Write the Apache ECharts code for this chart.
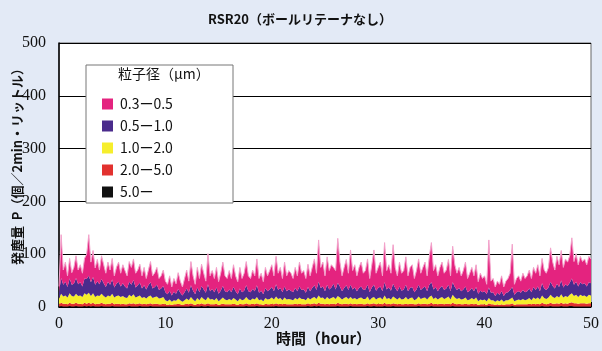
<!DOCTYPE html>
<html><head><meta charset="utf-8">
<script src="https://cdn.jsdelivr.net/npm/echarts@6/dist/echarts.min.js"></script>
<style>html,body{margin:0;padding:0;background:#e3eaf6;}#c{width:602px;height:351px;}</style>
</head><body><div id="c"></div>
<script>
// sampling step of the time axis (hours)
const stepHours = 0.2;
const seriesNames = ['0.3ー0.5', '0.5ー1.0', '1.0ー2.0', '2.0ー5.0', '5.0ー'];
const xTicks = [0, 10, 20, 30, 40, 50];
const yTicks = [0, 100, 200, 300, 400, 500];

// 5.0- (black)
const s50 = [
1,2,1,1,1,2,1,1,2,1, 1,1,2,1,2,1,2,1,1,1, 2,1,1,1,1,2,1,1,1,1, 1,1,1,2,1,1,1,1,2,1,
1,1,1,2,1,1,1,1,1,1, 1,1,1,1,1,1,1,1,1,1, 1,1,2,1,1,1,1,2,1,1, 2,1,1,1,1,1,1,1,1,1,
1,1,1,1,1,1,1,1,2,1, 1,1,1,2,1,1,1,1,1,1, 1,1,2,1,1,1,1,1,1,1, 1,1,1,1,1,1,1,2,1,1,
2,1,2,1,1,1,1,1,1,1, 1,2,1,1,1,1,1,2,1,1, 1,1,1,1,1,2,1,1,2,1, 1,1,1,2,1,1,1,2,1,1,
1,1,1,1,1,1,1,1,1,2, 1,1,1,1,1,2,1,1,1,1, 1,1,1,1,1,2,1,1,1,1, 1,1,1,1,1,1,1,1,1,1,
1,1,2,1,1,1,1,1,1,1, 1,1,1,2,1,1,1,1,1,1, 1,1,1,1,1,1,1,2,1,1, 1,2,1,1,1,1,2,1,1,1,
2,2,1,1,1,1,1,1,1,1, 1
];
// 2.0-5.0 (red)
const s20 = [
4,6,5,5,4,6,5,5,6,5, 5,4,6,5,6,5,6,4,5,5, 6,5,4,5,5,6,4,5,5,4, 5,4,4,5,5,6,4,5,5,4,
5,4,5,5,4,5,5,4,4,5, 4,3,4,3,4,4,5,4,3,4, 5,4,5,4,3,5,4,5,4,4, 5,4,4,4,5,3,4,5,4,4,
4,4,5,4,3,5,4,4,5,4, 4,5,4,5,4,4,3,5,4,4, 5,4,5,4,5,4,5,4,4,4, 4,5,4,5,4,4,4,5,4,5,
5,4,6,5,5,4,5,4,5,5, 4,6,5,4,5,5,4,5,4,5, 4,5,5,4,4,5,4,5,5,4, 5,5,4,6,4,5,4,5,5,4,
5,4,4,5,4,5,5,4,4,5, 4,5,5,4,5,6,4,5,4,5, 5,4,5,5,4,6,5,4,5,4, 4,5,4,4,5,4,5,3,4,4,
4,3,5,4,4,3,4,3,4,3, 4,4,4,5,3,4,4,4,4,4, 4,5,4,5,4,5,4,6,5,4, 5,6,5,5,6,5,6,5,6,5,
6,7,6,6,5,6,6,6,5,6, 6
];
// 1.0-2.0 (yellow)
const s10 = [
11,17,14,16,13,18,15,14,17,15, 16,14,18,17,19,15,18,14,16,15, 17,15,13,16,14,17,13,15,16,14, 15,13,12,16,14,17,13,14,15,12,
13,11,14,15,12,13,14,11,12,13, 8,7,9,6,8,7,10,8,6,8, 10,8,12,9,7,11,8,12,10,8, 12,9,10,8,11,7,9,12,9,8,
10,8,11,9,7,10,8,9,12,9, 8,10,9,12,8,9,7,11,9,10, 12,9,13,10,11,8,12,9,10,9, 8,11,9,12,10,10,8,11,9,11,
12,10,14,11,12,9,13,10,11,13, 10,13,12,9,11,13,10,12,10,11, 9,11,12,10,10,13,8,11,12,9, 11,12,9,14,10,11,9,13,11,9,
12,9,10,13,9,11,12,8,10,13, 10,11,12,9,13,14,10,12,9,11, 13,10,11,14,9,15,12,10,11,9, 10,12,8,9,11,9,12,7,9,8,
9,7,10,8,8,6,8,7,9,6, 8,8,10,11,7,8,9,8,10,8, 9,11,8,12,10,12,9,14,11,10, 12,15,13,11,14,12,16,12,14,13,
15,17,14,16,13,16,14,15,13,16, 15
];
// 0.5-1.0 (purple)
const s05 = [
12,30,22,26,20,28,21,24,30,22, 25,20,28,30,32,26,31,23,27,22, 28,24,20,26,22,27,19,23,26,20, 24,21,18,25,22,27,19,21,24,18,
22,17,21,25,18,19,22,16,18,21, 15,13,17,12,16,13,18,14,12,15, 19,14,22,17,13,20,15,21,18,14, 24,16,19,15,20,14,17,22,16,15,
18,15,21,16,13,19,15,17,22,16, 15,18,16,22,14,17,13,19,16,18, 20,16,23,17,19,15,21,16,18,17, 15,19,16,21,17,18,14,20,16,19,
22,17,26,19,21,16,23,18,20,25, 18,25,21,16,19,22,17,23,18,20, 16,19,21,17,18,22,15,20,23,17, 19,21,16,25,18,20,17,24,19,16,
21,17,18,23,16,19,20,15,18,22, 17,19,21,16,23,25,18,20,16,19, 21,17,18,22,16,24,20,17,19,16, 18,21,15,17,19,16,20,14,17,15,
16,13,20,14,15,11,14,12,16,11, 14,15,17,20,12,15,16,14,17,15, 16,18,15,20,17,21,16,23,18,17, 19,25,21,18,23,20,26,19,22,21,
23,28,21,25,20,24,22,23,20,24, 23
];
// 0.3-0.5 (pink)
const s03 = [
11,82,28,37,21,38,23,31,42,27, 33,25,38,47,78,38,50,32,41,27, 44,35,26,37,28,40,22,31,37,25, 35,30,24,38,33,40,27,29,35,24,
34,21,29,39,24,27,33,22,24,30, 21,19,28,16,25,19,31,22,16,26, 35,22,45,28,19,38,26,41,31,22, 58,29,35,26,38,23,33,45,29,26,
36,26,42,29,24,40,26,33,45,29, 26,36,29,50,27,33,24,39,29,36, 42,29,53,32,39,26,46,29,36,33, 26,39,29,46,32,36,27,43,29,39,
50,32,79,39,46,29,53,36,43,31, 36,84,46,29,39,49,32,66,36,43, 29,39,46,32,36,49,26,43,66,33, 39,46,29,75,36,43,33,74,39,29,
46,33,36,53,29,39,42,26,36,49, 32,39,46,29,53,75,36,42,29,39, 45,32,35,48,29,68,42,32,39,29, 36,46,26,33,39,29,42,23,33,26,
29,19,90,22,26,17,22,20,29,17, 22,26,32,81,20,26,29,22,32,26, 29,35,26,37,32,41,29,47,35,32, 38,64,45,35,52,42,57,38,48,45,
51,77,44,53,41,49,43,46,41,49, 46
];

const n = Math.min(s50.length, s20.length, s10.length, s05.length, s03.length);
const hours = [];
for (let i = 0; i < n; i++) hours.push(+(i * stepHours).toFixed(1));
const tickEvery = Math.round(10 / stepHours);

const layers = [
  { name: seriesNames[4], data: s50, color: '#111111' },
  { name: seriesNames[3], data: s20, color: '#e2312f' },
  { name: seriesNames[2], data: s10, color: '#f6ee2c' },
  { name: seriesNames[1], data: s05, color: '#4a2b8c' },
  { name: seriesNames[0], data: s03, color: '#e4237f', line: '#f3a3cb' }
];

const chart = echarts.init(document.getElementById('c'), null, { renderer: 'canvas' });
const axisFont = { fontFamily: 'Liberation Serif', fontSize: 16, color: '#111' };
chart.setOption({
  backgroundColor: '#e3eaf6',
  animation: false,
  title: {
    text: 'RSR20（ボールリテーナなし）', left: 203, top: 8,
    textStyle: { fontFamily: 'Noto Sans CJK JP', fontSize: 13, fontWeight: 'bold', color: '#111' }
  },
  grid: { left: 59, right: 11, top: 43, bottom: 44, show: true, backgroundColor: '#ffffff', borderColor: '#666', borderWidth: 1 },
  legend: {
    orient: 'vertical', left: 97, top: 92, z: 120,
    data: seriesNames, icon: 'rect', itemWidth: 11, itemHeight: 11, itemGap: 8,
    textStyle: { fontFamily: 'Noto Sans CJK JP', fontSize: 14, color: '#111', padding: [0, 0, 0, 2] },
    selectedMode: false
  },
  graphic: [
    { type: 'rect', z: 100, shape: { x: 86, y: 65, width: 147, height: 138 }, style: { fill: '#fff', stroke: '#777', lineWidth: 1 } },
    { type: 'text', z: 110, left: 118, top: 67, style: { text: '粒子径（μm）', font: '14px "Noto Sans CJK JP"', fill: '#111' } },
    { type: 'text', z: 110, left: 11, top: 62, rotation: Math.PI / 2, style: { text: '発塵量  P（個／2min・リットル）', font: 'bold 13px "Noto Sans CJK JP"', fill: '#111' } },
    { type: 'text', z: 110, left: 276, top: 331, style: { text: '時間（hour）', font: 'bold 15px "Noto Sans CJK JP"', fill: '#111' } }
  ],
  xAxis: {
    type: 'category', data: hours, boundaryGap: false,
    axisLine: { lineStyle: { color: '#000', width: 1.5 } },
    axisTick: { show: true, inside: true, length: 5, interval: tickEvery - 1, lineStyle: { color: '#000' } },
    axisLabel: Object.assign({ margin: 9, interval: tickEvery - 1, showMaxLabel: true,
      formatter: (v) => (xTicks.indexOf(Number(v)) >= 0 ? String(Number(v)) : '') }, axisFont),
    splitLine: { show: false }
  },
  yAxis: {
    type: 'value', min: yTicks[0], max: yTicks[yTicks.length - 1], interval: 100,
    axisLine: { show: true, lineStyle: { color: '#000', width: 1.5 } },
    axisTick: { show: false },
    axisLabel: Object.assign({ margin: 13 }, axisFont),
    splitLine: { show: true, lineStyle: { color: '#000', width: 1 } }
  },
  series: layers.map((l) => ({
    name: l.name, type: 'line', stack: 'total', symbol: 'none', sampling: null,
    data: l.data.slice(0, n), z: 2,
    itemStyle: { color: l.color },
    lineStyle: { width: l.line ? 1 : 0, color: l.line || l.color },
    areaStyle: { color: l.color, opacity: 1 }
  }))
});
</script></body></html>
